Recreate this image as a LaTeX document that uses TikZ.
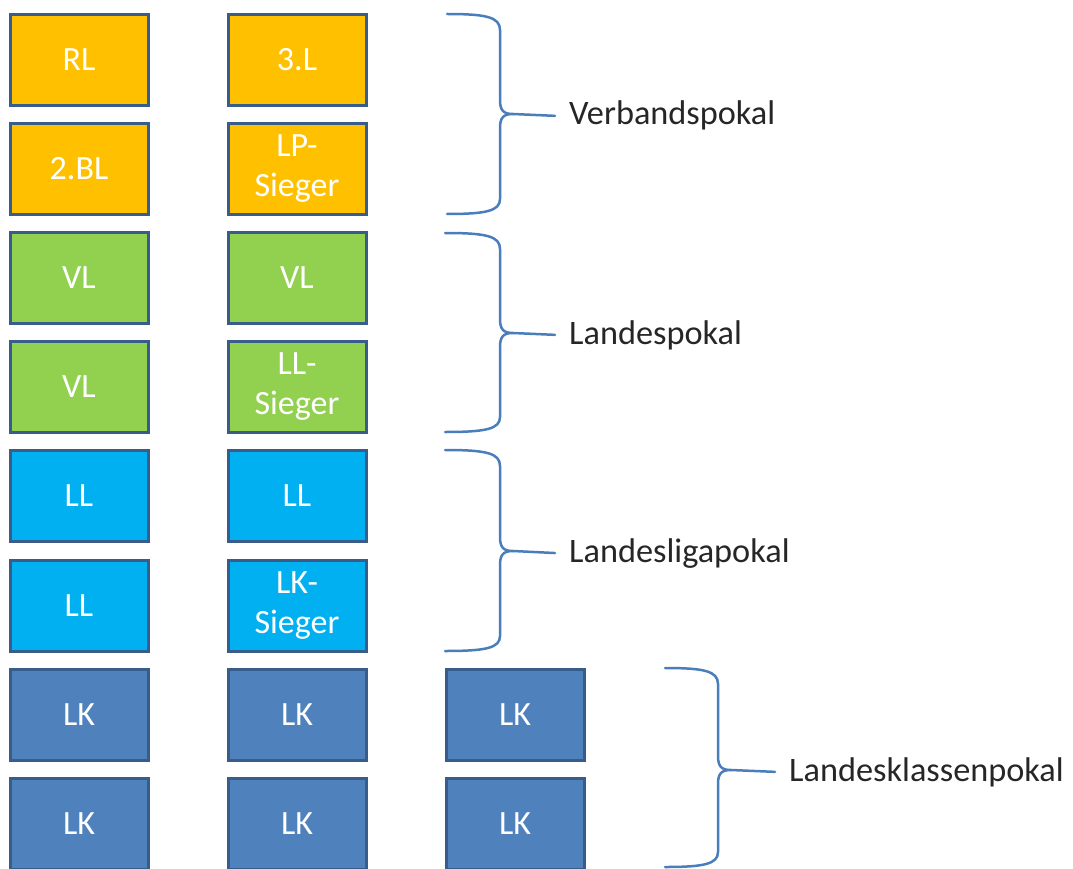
\documentclass[tikz,border=0pt]{standalone}
\usepackage{fontspec}
\setmainfont{Carlito}

\definecolor{ligagold}{HTML}{FFC000}
\definecolor{ligagreen}{HTML}{92D050}
\definecolor{ligacyan}{HTML}{00B0F0}
\definecolor{ligablue}{HTML}{4F81BD}
\definecolor{ligaline}{HTML}{385D8A}
\definecolor{bracecol}{HTML}{4A7EBB}

\begin{document}
\begin{tikzpicture}[x=1pt,y=-1pt]
    \tikzset{team/.style = {shape=rectangle, draw=ligaline, line width=3pt, minimum width=138pt, minimum height=91pt, inner sep=0pt, text=white, align=center, font=\fontsize{34}{40}\selectfont}}
    \tikzset{brace/.style = {draw=bracecol, line width=2.5pt, line cap=round}}
    \tikzset{cup/.style = {anchor=base west, inner xsep=14pt, inner ysep=0pt, text=black!85, font=\fontsize{34.3}{40}\selectfont}}

    \useasboundingbox (0,0) rectangle (1073,869);

    % teams
    \node[team, fill=ligagold] (rl) at (79,60) {RL};
    \node[team, fill=ligagold] (dl) at (297,60) {3.L};
    \node[team, fill=ligagold] (bl) at (79,169) {2.BL};
    \node[team, fill=ligagold] (lp) at (297,169) {LP-\\Sieger};
    \node[team, fill=ligagreen] (vla) at (79,278) {VL};
    \node[team, fill=ligagreen] (vlb) at (297,278) {VL};
    \node[team, fill=ligagreen] (vlc) at (79,387) {VL};
    \node[team, fill=ligagreen] (ll) at (297,387) {LL-\\Sieger};
    \node[team, fill=ligacyan] (lla) at (79,496) {LL};
    \node[team, fill=ligacyan] (llb) at (297,496) {LL};
    \node[team, fill=ligacyan] (llc) at (79,606) {LL};
    \node[team, fill=ligacyan] (lk) at (297,606) {LK-\\Sieger};
    \node[team, fill=ligablue] (lka) at (79,715) {LK};
    \node[team, fill=ligablue] (lkb) at (297,715) {LK};
    \node[team, fill=ligablue] (lkc) at (515,715) {LK};
    \node[team, fill=ligablue] (lkd) at (79,824) {LK};
    \node[team, fill=ligablue] (lke) at (297,824) {LK};
    \node[team, fill=ligablue] (lkf) at (515,824) {LK};

    % cups
    \node[cup] (vp) at (555,125) {Verbandspokal};
    \node[cup] (lap) at (555,344) {Landespokal};
    \node[cup] (lgp) at (555,562) {Landesligapokal};
    \node[cup] (lkp) at (775,781) {Landesklassenpokal};

    % braces
    \coordinate (t1) at (513,114);
    \coordinate (t2) at (513,333);
    \coordinate (t3) at (513,551);
    \coordinate (t4) at (731,770);
    \draw[brace] (447,14) .. controls (486,14) and (500,17) .. (500,30) -- (500,100)
        .. controls (500,110) and (503,114) .. (t1) .. controls (503,114) and (500,118) .. (500,128)
        -- (500,199) .. controls (500,211) and (486,214) .. (447,214);
    \draw[brace] (445,233) .. controls (486,233) and (500,236) .. (500,249) -- (500,319)
        .. controls (500,329) and (503,333) .. (t2) .. controls (503,333) and (500,337) .. (500,347)
        -- (500,417) .. controls (500,429) and (486,432) .. (445,432);
    \draw[brace] (445,450) .. controls (486,450) and (500,453) .. (500,466) -- (500,537)
        .. controls (500,547) and (503,551) .. (t3) .. controls (503,551) and (500,555) .. (500,565)
        -- (500,636) .. controls (500,648) and (486,651) .. (445,651);
    \draw[brace] (665,668) .. controls (704,668) and (718,671) .. (718,684) -- (718,756)
        .. controls (718,766) and (721,770) .. (t4) .. controls (721,770) and (718,774) .. (718,784)
        -- (718,852) .. controls (718,864) and (704,867) .. (665,867);

    % ticks
    \draw[brace] (t1) -- (vp.west);
    \draw[brace] (t2) -- (lap.west);
    \draw[brace] (t3) -- (lgp.west);
    \draw[brace] (t4) -- (lkp.west);
\end{tikzpicture}
\end{document}
